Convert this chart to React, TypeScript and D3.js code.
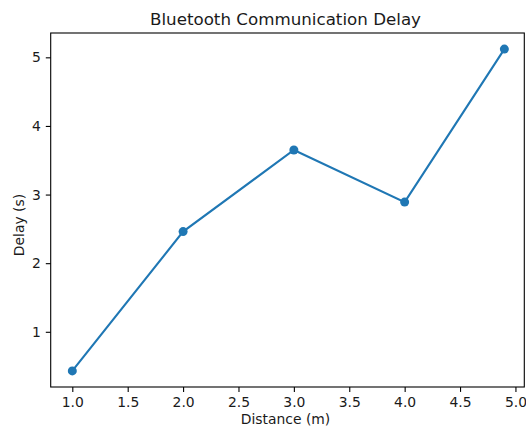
import React, { useEffect, useRef } from 'react';
import * as d3 from 'd3';

const distances = [1.0, 2.0, 3.0, 4.0, 4.9];
const delays = [0.43, 2.46, 3.65, 2.89, 5.12];
const xTicks = [1.0, 1.5, 2.0, 2.5, 3.0, 3.5, 4.0, 4.5, 5.0];
const yTicks = [1, 2, 3, 4, 5];
const xLimits = [0.805, 5.08];

const App: React.FC = () => {
    const chartRef = useRef<SVGSVGElement | null>(null);

    useEffect(() => {
        if (!chartRef.current) return;

        const width = 526;
        const height = 428;
        const margin = { top: 33, right: 1.7, bottom: 41, left: 50.7 };
        const font = 'DejaVu Sans, sans-serif';

        d3.select(chartRef.current).selectAll('*').remove();

        const svg = d3.select(chartRef.current)
            .attr('width', width)
            .attr('height', height);

        // matplotlib style 5% margins around data (y)
        const yPad = (d3.max(delays)! - d3.min(delays)!) * 0.05;

        const x = d3.scaleLinear()
            .domain(xLimits)
            .range([margin.left, width - margin.right]);

        const y = d3.scaleLinear()
            .domain([d3.min(delays)! - yPad, d3.max(delays)! + yPad])
            .range([height - margin.bottom, margin.top]);

        const xAxis = svg.append('g')
            .attr('transform', `translate(0, ${height - margin.bottom})`)
            .call(d3.axisBottom(x).tickValues(xTicks).tickFormat(d3.format('.1f')).tickSize(4.9).tickPadding(4.9));

        const yAxis = svg.append('g')
            .attr('transform', `translate(${margin.left}, 0)`)
            .call(d3.axisLeft(y).tickValues(yTicks).tickFormat(d3.format('d')).tickSize(4.9).tickPadding(4.9));

        [xAxis, yAxis].forEach(g => {
            g.select('.domain').remove();
            g.selectAll('line').attr('stroke', '#000').attr('stroke-width', 1.1);
            g.selectAll('text')
                .style('font-family', font)
                .style('font-size', '13.9px')
                .attr('fill', '#1a1a1a');
        });

        // axes frame
        svg.append('rect')
            .attr('x', margin.left)
            .attr('y', margin.top)
            .attr('width', width - margin.left - margin.right)
            .attr('height', height - margin.top - margin.bottom)
            .attr('fill', 'none')
            .attr('stroke', '#000')
            .attr('stroke-width', 1.1);

        const line = d3.line<number>()
            .x((d, i) => x(distances[i]))
            .y(d => y(d));

        svg.append('path')
            .datum(delays)
            .attr('d', line)
            .attr('fill', 'none')
            .attr('stroke', '#1f77b4')
            .attr('stroke-width', 2.1);

        svg.selectAll('circle.pt')
            .data(delays)
            .enter()
            .append('circle')
            .attr('class', 'pt')
            .attr('cx', (d, i) => x(distances[i]))
            .attr('cy', d => y(d))
            .attr('r', 4.5)
            .attr('fill', '#1f77b4');

        svg.append('text')
            .attr('x', 285.5)
            .attr('y', 25)
            .attr('text-anchor', 'middle')
            .style('font-family', font)
            .style('font-size', '16.7px')
            .attr('fill', '#1a1a1a')
            .text('Bluetooth Communication Delay');

        svg.append('text')
            .attr('x', 285.5)
            .attr('y', 424)
            .attr('text-anchor', 'middle')
            .style('font-family', font)
            .style('font-size', '13.9px')
            .attr('fill', '#1a1a1a')
            .text('Distance (m)');

        svg.append('text')
            .attr('transform', 'translate(24, 225) rotate(-90)')
            .attr('text-anchor', 'middle')
            .style('font-family', font)
            .style('font-size', '13.9px')
            .attr('fill', '#1a1a1a')
            .text('Delay (s)');
    }, []);

    return (
        <div style={{ position: 'absolute', left: 0, top: 0 }}>
            <svg ref={chartRef} style={{ display: 'block' }} />
        </div>
    );
};

export default App;
